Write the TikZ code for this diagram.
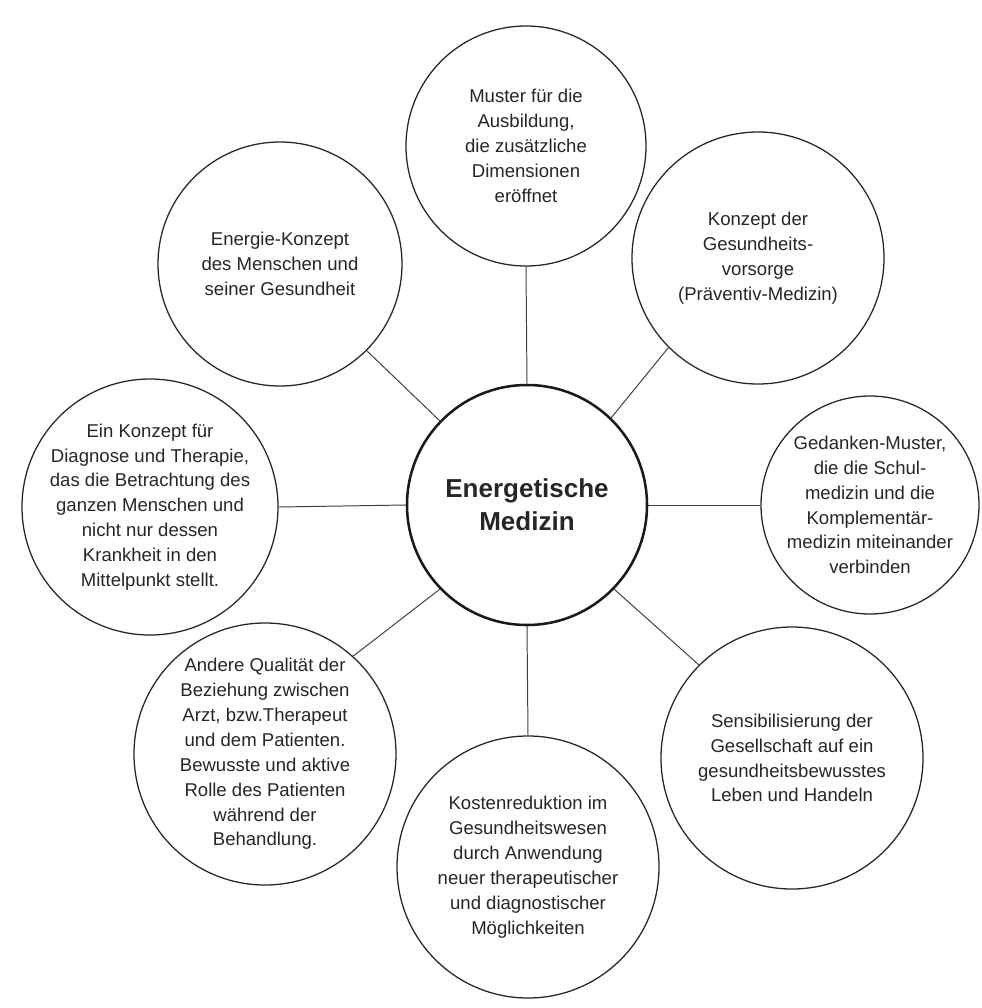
\documentclass[tikz,border=0pt]{standalone}
\usepackage{fontspec}
\setmainfont{Liberation Sans}

\tikzstyle{bubble} = [
circle,
draw=black!85,
line width=0.9pt,
fill=white,
inner sep=0pt
]
\tikzstyle{bubbletext} = [
align=center,
text=black!85,
inner sep=0pt,
font=\fontsize{13.2}{17.7}\selectfont
]
\tikzstyle{core} = [
circle,
draw=black!90,
line width=1.8pt,
fill=white,
minimum size=6cm,
align=center,
text=black!85,
font=\bfseries\fontsize{18.5}{23.4}\selectfont
]
\tikzstyle{link} = [
draw=black!75,
line width=0.7pt
]

\begin{document}
\begin{tikzpicture}

% Canvas
\fill[white] (0,0) rectangle (24.525,-25.2);

% Nodes
\node (mid) [core] at (13.175,-12.625)
{Energetische\\Medizin};

\node (top) [bubble, minimum size=6cm,
label={[bubbletext]center:{Muster für die\\Ausbildung,\\die zusätzliche\\Dimensionen\\eröffnet}}]
at (13.15,-3.65) {};

\node (topright) [bubble, minimum size=6.3cm,
label={[bubbletext]center:{Konzept der\\Gesundheits-\\vorsorge\\(Präventiv-Medizin)}}]
at (18.95,-6.45) {};

\node (right) [bubble, minimum size=5.45cm,
label={[bubbletext]center:{Gedanken-Muster,\\die die Schul-\\medizin und die\\Komplementär-\\medizin miteinander\\verbinden}}]
at (21.75,-12.625) {};

\node (botright) [bubble, minimum size=6.55cm,
label={[bubbletext]center:{Sensibilisierung der\\Gesellschaft auf ein\\gesundheitsbewusstes\\Leben und Handeln}}]
at (19.8,-18.95) {};

\node (bottom) [bubble, minimum size=6.55cm,
label={[bubbletext]center:{Kostenreduktion im\\Gesundheitswesen\\durch Anwendung\\neuer therapeutischer\\und diagnostischer\\Möglichkeiten}}]
at (13.2,-21.675) {};

\node (botleft) [bubble, minimum size=6.55cm,
label={[bubbletext]center:{Andere Qualität der\\Beziehung zwischen\\Arzt, bzw.Therapeut\\und dem Patienten.\\Bewusste und aktive\\Rolle des Patienten\\während der\\Behandlung.}}]
at (6.625,-18.85) {};

\node (left) [bubble, minimum size=6.4cm,
label={[bubbletext]center:{Ein Konzept für\\Diagnose und Therapie,\\das die Betrachtung des\\ganzen Menschen und\\nicht nur dessen\\Krankheit in den\\Mittelpunkt stellt.}}]
at (3.75,-12.675) {};

\node (topleft) [bubble, minimum size=6.1cm,
label={[bubbletext]center:{Energie-Konzept\\des Menschen und\\seiner Gesundheit}}]
at (7.0,-6.6) {};

% Lines
\draw [link] (mid.north) -- (top.south);
\draw [link] (mid.46) -- (topright.225);
\draw [link] (mid.east) -- (right.west);
\draw [link] (mid.316) -- (botright.135);
\draw [link] (mid.south) -- (bottom.north);
\draw [link] (mid.224) -- (botleft.48);
\draw [link] (mid.west) -- (left.east);
\draw [link] (mid.136) -- (topleft.315);

\end{tikzpicture}
\end{document}
